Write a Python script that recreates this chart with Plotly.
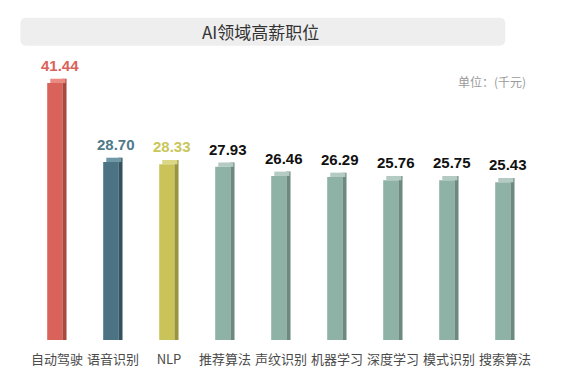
import plotly.graph_objects as go

categories = ["自动驾驶", "语音识别", "NLP", "推荐算法", "声纹识别", "机器学习", "深度学习", "模式识别", "搜索算法"]
values = [41.44, 28.70, 28.33, 27.93, 26.46, 26.29, 25.76, 25.75, 25.43]
front_colors = ["#d9625a", "#4b7384", "#c9c35a"] + ["#8fb2a6"] * 6
side_colors = ["#a9483f", "#34525e", "#999440"] + ["#6c8a80"] * 6
top_colors = ["#ea8a80", "#6f97a6", "#dcd784"] + ["#b3cbc2"] * 6
label_colors = ["#d9625a", "#4f7a88", "#c9c65a"] + ["#111111"] * 6
title_text = "AI领域高薪职位"
unit_text = "单位：(千元)"

depth = 0.7  # visual depth of the 3D top face, in value units
tops = [v + depth for v in values]
depths = [depth] * len(values)

fig = go.Figure()
# side face (darker)
fig.add_trace(go.Bar(x=categories, y=tops, width=0.075, offset=0.095,
                     marker=dict(color=side_colors, line=dict(width=0)),
                     hoverinfo="skip", showlegend=False))
# front face
fig.add_trace(go.Bar(x=categories, y=values, width=0.27, offset=-0.175,
                     marker=dict(color=front_colors, line=dict(width=0)),
                     showlegend=False))
# top face (lighter)
fig.add_trace(go.Bar(x=categories, y=depths, base=values, width=0.27, offset=-0.12,
                     marker=dict(color=top_colors, line=dict(width=0)),
                     hoverinfo="skip", showlegend=False))

for c, v, col in zip(categories, values, label_colors):
    fig.add_annotation(x=c, y=v, text=f"<b>{v:.2f}</b>", showarrow=False,
                       xanchor="center", yanchor="bottom", yshift=7, xshift=3,
                       font=dict(family="Liberation Sans, Arial", size=15, color=col))

# rounded title box (paper coordinates)
x0, x1, y0, y1, rx, ry = -0.017, 0.945, 1.055, 1.155, 0.012, 0.02
path = (f"M {x0+rx},{y0} L {x1-rx},{y0} Q {x1},{y0} {x1},{y0+ry} L {x1},{y1-ry} "
        f"Q {x1},{y1} {x1-rx},{y1} L {x0+rx},{y1} Q {x0},{y1} {x0},{y1-ry} "
        f"L {x0},{y0+ry} Q {x0},{y0} {x0+rx},{y0} Z")
fig.add_shape(type="path", xref="paper", yref="paper", path=path,
              fillcolor="#eeeeee", line=dict(width=0), layer="below")
fig.add_annotation(xref="paper", yref="paper", x=0.46, y=1.105, text=title_text, showarrow=False,
                   xanchor="center", yanchor="middle",
                   font=dict(family="Noto Sans CJK SC", size=17, color="#333333"))
fig.add_annotation(xref="paper", yref="paper", x=0.99, y=0.925, text=unit_text, showarrow=False,
                   xanchor="right", yanchor="middle",
                   font=dict(family="Noto Sans CJK SC", size=12, color="#9a9a9a"))

fig.update_layout(
    width=572, height=371,
    margin=dict(l=21, r=47, t=53, b=39),
    paper_bgcolor="white", plot_bgcolor="white",
    barmode="overlay",
    xaxis=dict(type="category", range=[-0.5, 8.5], showgrid=False, zeroline=False,
               showline=False, ticks="", automargin=False, ticklabelstandoff=10,
               tickangle=0,
               tickfont=dict(family="Noto Sans CJK SC", size=13, color="#4a4a4a")),
    yaxis=dict(range=[0, 45], visible=False),
)

fig.write_html("out.html")
